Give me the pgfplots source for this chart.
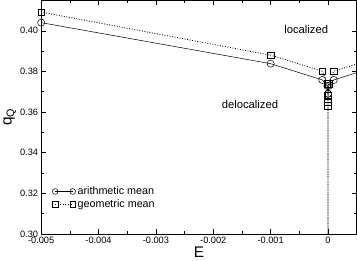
\documentclass[border=0pt]{standalone}
\usepackage{fontspec}
\setmainfont{Liberation Sans}
\usepackage{pgfplots}
\pgfplotsset{compat=1.18}
\begin{document}
\begin{tikzpicture}
\begin{axis}[
  scale only axis,
  width=308pt, height=228pt,
  xmin=-0.005, xmax=0.0005,
  ymin=0.30, ymax=0.415,
  xtick={-0.005,-0.004,-0.003,-0.002,-0.001,0},
  xticklabels={-0.005,-0.004,-0.003,-0.002,-0.001,0},
  minor x tick num=1,
  ytick={0.30,0.32,0.34,0.36,0.38,0.40},
  yticklabels={0.30,0.32,0.34,0.36,0.38,0.40},
  minor y tick num=1,
  scaled ticks=false,
  tick align=inside,
  major tick length=5pt, minor tick length=3pt,
  tick style={black, line width=0.5pt},
  ticklabel style={font=\fontsize{9}{10}\selectfont},
  xticklabel style={yshift=0.5pt},
  yticklabel style={xshift=0.5pt},
  xlabel={E}, ylabel={q$_\mathrm{Q}$},
  xlabel style={font=\fontsize{15}{16}\selectfont, yshift=4pt},
  ylabel style={font=\fontsize{15}{16}\selectfont, yshift=-3pt},
  axis line style={line width=0.6pt},
  legend style={draw=none, fill=none, at={(0.025,0.22)}, anchor=north west, font=\fontsize{10.5}{11.5}\selectfont, row sep=-0.5pt},
  legend cell align=left,
  legend image code/.code={
    \draw[#1, mark repeat=2, mark phase=1, mark size=2.8pt] plot coordinates {(0cm,0cm) (0.3cm,0cm) (0.6cm,0cm)};
  },
  clip=true,
]
\addplot[black, line width=0.5pt, mark=o, mark size=3.5pt, mark options={solid, fill=white}] coordinates {
 (-0.005,0.4040) (-0.001,0.3838) (-0.0001,0.3758) (-0.00001,0.3728) (-0.000001,0.3690)
 (0.000001,0.3690) (0.00001,0.3728) (0.0001,0.3758) (0.001,0.3838) (0.005,0.4040)
};
\addlegendentry{arithmetic mean}
\addplot[black, line width=0.8pt, dash pattern=on 0.9pt off 1.6pt, mark=square, mark size=3.2pt, mark options={solid, line width=0.5pt, fill=white}] coordinates {
 (-0.005,0.4092) (-0.001,0.3880) (-0.0001,0.3801) (-0.00001,0.3740) (-0.000001,0.3680)
 (-0.0000001,0.3650) (-0.00000001,0.3630) (0,0.2)
 (0.00000001,0.3630) (0.0000001,0.3650) (0.000001,0.3680) (0.00001,0.3740) (0.0001,0.3801) (0.001,0.3880) (0.005,0.4092)
};
\addlegendentry{geometric mean}
\node[font=\fontsize{11}{12}\selectfont] at (axis cs:-0.00038,0.4005) {localized};
\node[font=\fontsize{11}{12}\selectfont] at (axis cs:-0.00136,0.3635) {delocalized};
\end{axis}
\end{tikzpicture}
\end{document}
